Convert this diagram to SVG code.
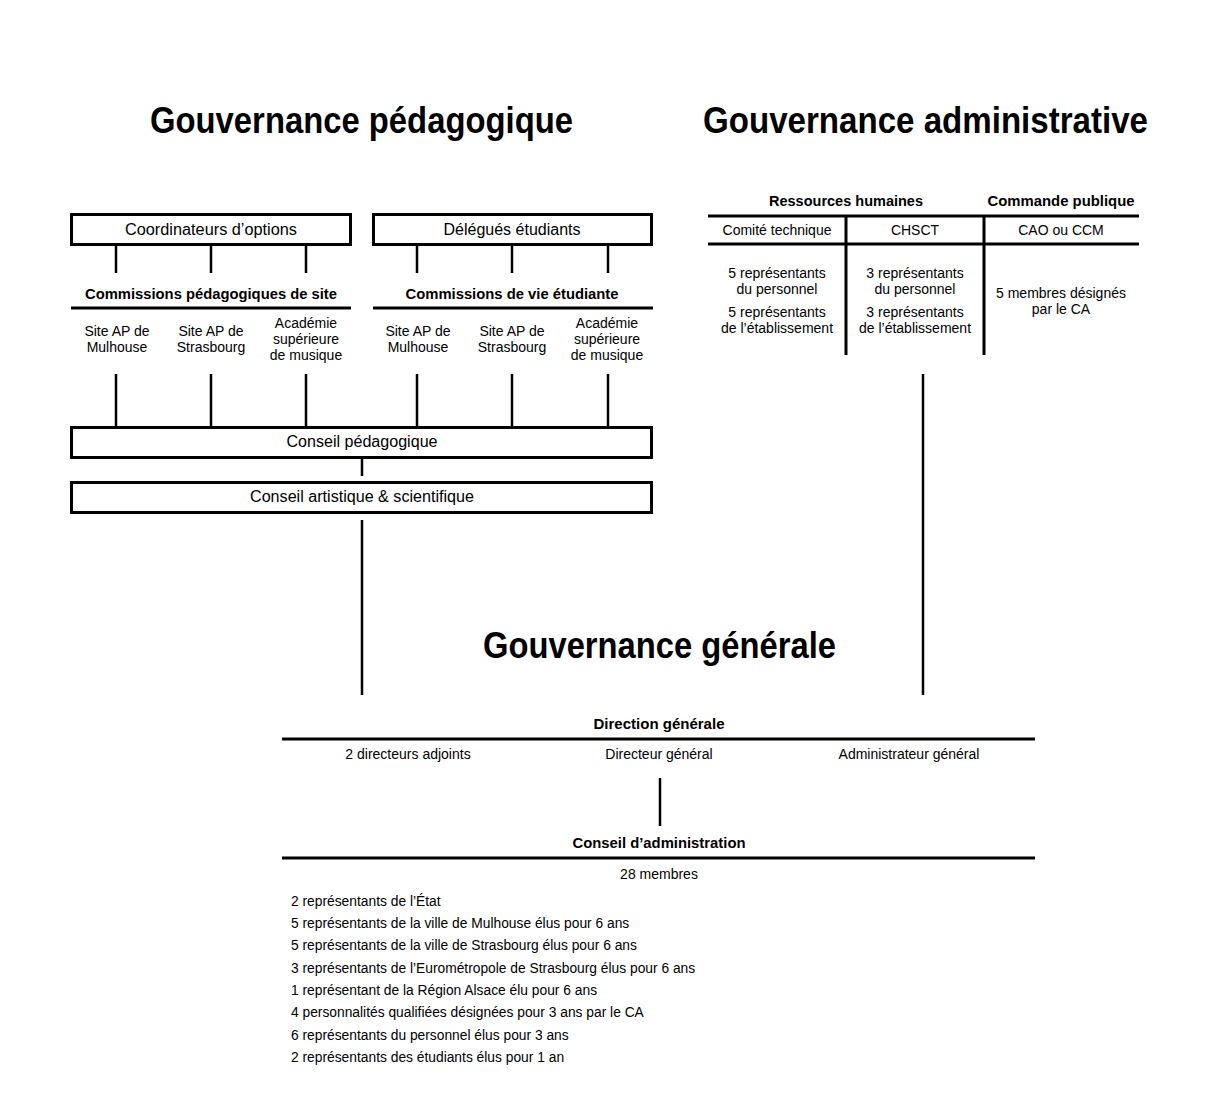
<svg xmlns="http://www.w3.org/2000/svg" width="1220" height="1100" viewBox="0 0 1220 1100">
<style>
.t{font-family:"Liberation Sans",Arial,sans-serif;font-weight:700;font-size:36px;fill:#000}
.h{font-family:"Liberation Sans",Arial,sans-serif;font-weight:700;font-size:15px;fill:#000;text-anchor:middle}
.r{font-family:"Liberation Sans",Arial,sans-serif;font-size:14px;fill:#000;text-anchor:middle}
.b{font-family:"Liberation Sans",Arial,sans-serif;font-size:16px;fill:#000;text-anchor:middle}
.l{font-family:"Liberation Sans",Arial,sans-serif;font-size:13.8px;fill:#000}
.box{fill:#fff;stroke:#000;stroke-width:3}
.ln{stroke:#000;stroke-width:3;fill:none}
.c{stroke:#000;stroke-width:2.5;fill:none}
</style>
<rect width="1220" height="1100" fill="#fff"/>
<g id="titles">
<text class="t" x="150" y="133" textLength="423" lengthAdjust="spacingAndGlyphs">Gouvernance pédagogique</text>
<text class="t" x="703" y="133" textLength="445" lengthAdjust="spacingAndGlyphs">Gouvernance administrative</text>
<text class="t" x="483" y="658" textLength="353" lengthAdjust="spacingAndGlyphs">Gouvernance générale</text>
</g>
<g id="connectors">
<line class="c" x1="116" y1="246" x2="116" y2="273"/>
<line class="c" x1="211" y1="246" x2="211" y2="273"/>
<line class="c" x1="306" y1="246" x2="306" y2="273"/>
<line class="c" x1="417" y1="246" x2="417" y2="273"/>
<line class="c" x1="512" y1="246" x2="512" y2="273"/>
<line class="c" x1="608" y1="246" x2="608" y2="273"/>
<line class="c" x1="116" y1="374" x2="116" y2="427"/>
<line class="c" x1="211" y1="374" x2="211" y2="427"/>
<line class="c" x1="306" y1="374" x2="306" y2="427"/>
<line class="c" x1="417" y1="374" x2="417" y2="427"/>
<line class="c" x1="512" y1="374" x2="512" y2="427"/>
<line class="c" x1="608" y1="374" x2="608" y2="427"/>
<line class="c" x1="362" y1="458" x2="362" y2="476"/>
<line class="c" x1="362" y1="520" x2="362" y2="695"/>
<line class="c" x1="923" y1="374" x2="923" y2="695"/>
<line class="c" x1="660" y1="778" x2="660" y2="826"/>
</g>
<g id="coordinateurs">
<rect class="box" x="71.5" y="214.5" width="279" height="30"/>
<text class="b" x="211" y="235" textLength="172" lengthAdjust="spacingAndGlyphs">Coordinateurs d’options</text>
</g>
<g id="delegues">
<rect class="box" x="373.5" y="214.5" width="278" height="30"/>
<text class="b" x="512" y="235" textLength="137" lengthAdjust="spacingAndGlyphs">Délégués étudiants</text>
</g>
<g id="commissions-pedagogiques">
<text class="h" x="211" y="299" textLength="252" lengthAdjust="spacingAndGlyphs">Commissions pédagogiques de site</text>
<line class="ln" x1="71" y1="308" x2="351" y2="308"/>
<text class="r" x="117" y="336">Site AP de</text>
<text class="r" x="117" y="352">Mulhouse</text>
<text class="r" x="211" y="336">Site AP de</text>
<text class="r" x="211" y="352">Strasbourg</text>
<text class="r" x="306" y="328">Académie</text>
<text class="r" x="306" y="344">supérieure</text>
<text class="r" x="306" y="360">de musique</text>
</g>
<g id="commissions-vie">
<text class="h" x="512" y="299" textLength="213" lengthAdjust="spacingAndGlyphs">Commissions de vie étudiante</text>
<line class="ln" x1="373" y1="308" x2="653" y2="308"/>
<text class="r" x="418" y="336">Site AP de</text>
<text class="r" x="418" y="352">Mulhouse</text>
<text class="r" x="512" y="336">Site AP de</text>
<text class="r" x="512" y="352">Strasbourg</text>
<text class="r" x="607" y="328">Académie</text>
<text class="r" x="607" y="344">supérieure</text>
<text class="r" x="607" y="360">de musique</text>
</g>
<g id="conseil-pedagogique">
<rect class="box" x="71.5" y="427.5" width="580" height="30"/>
<text class="b" x="362" y="447" textLength="151" lengthAdjust="spacingAndGlyphs">Conseil pédagogique</text>
</g>
<g id="conseil-artistique">
<rect class="box" x="71.5" y="482.5" width="580" height="30"/>
<text class="b" x="362" y="502" textLength="224" lengthAdjust="spacingAndGlyphs">Conseil artistique &amp; scientifique</text>
</g>
<g id="administrative">
<text class="h" x="846" y="206" textLength="154" lengthAdjust="spacingAndGlyphs">Ressources humaines</text>
<text class="h" x="1061" y="206" textLength="147" lengthAdjust="spacingAndGlyphs">Commande publique</text>
<line class="ln" x1="708" y1="216" x2="1139" y2="216"/>
<line class="ln" x1="708" y1="244" x2="1139" y2="244"/>
<line class="ln" x1="846" y1="216" x2="846" y2="355"/>
<line class="ln" x1="984" y1="216" x2="984" y2="355"/>
<text class="r" x="777" y="235">Comité technique</text>
<text class="r" x="915" y="235">CHSCT</text>
<text class="r" x="1061" y="235">CAO ou CCM</text>
<text class="r" x="777" y="278">5 représentants</text>
<text class="r" x="777" y="294">du personnel</text>
<text class="r" x="777" y="317">5 représentants</text>
<text class="r" x="777" y="333">de l’établissement</text>
<text class="r" x="915" y="278">3 représentants</text>
<text class="r" x="915" y="294">du personnel</text>
<text class="r" x="915" y="317">3 représentants</text>
<text class="r" x="915" y="333">de l’établissement</text>
<text class="r" x="1061" y="298">5 membres désignés</text>
<text class="r" x="1061" y="314">par le CA</text>
</g>
<g id="direction-generale">
<text class="h" x="659" y="729" textLength="131" lengthAdjust="spacingAndGlyphs">Direction générale</text>
<line class="ln" x1="282" y1="739" x2="1035" y2="739"/>
<text class="r" x="408" y="759">2 directeurs adjoints</text>
<text class="r" x="659" y="759">Directeur général</text>
<text class="r" x="909" y="759">Administrateur général</text>
</g>
<g id="conseil-administration">
<text class="h" x="659" y="848" textLength="173" lengthAdjust="spacingAndGlyphs">Conseil d’administration</text>
<line class="ln" x1="282" y1="858" x2="1035" y2="858"/>
<text class="r" x="659" y="879">28 membres</text>
<text class="l" x="291" y="906">2 représentants de l’État</text>
<text class="l" x="291" y="928">5 représentants de la ville de Mulhouse élus pour 6 ans</text>
<text class="l" x="291" y="950">5 représentants de la ville de Strasbourg élus pour 6 ans</text>
<text class="l" x="291" y="973">3 représentants de l’Eurométropole de Strasbourg élus pour 6 ans</text>
<text class="l" x="291" y="995">1 représentant de la Région Alsace élu pour 6 ans</text>
<text class="l" x="291" y="1017">4 personnalités qualifiées désignées pour 3 ans par le CA</text>
<text class="l" x="291" y="1040">6 représentants du personnel élus pour 3 ans</text>
<text class="l" x="291" y="1062">2 représentants des étudiants élus pour 1 an</text>
</g>
</svg>
